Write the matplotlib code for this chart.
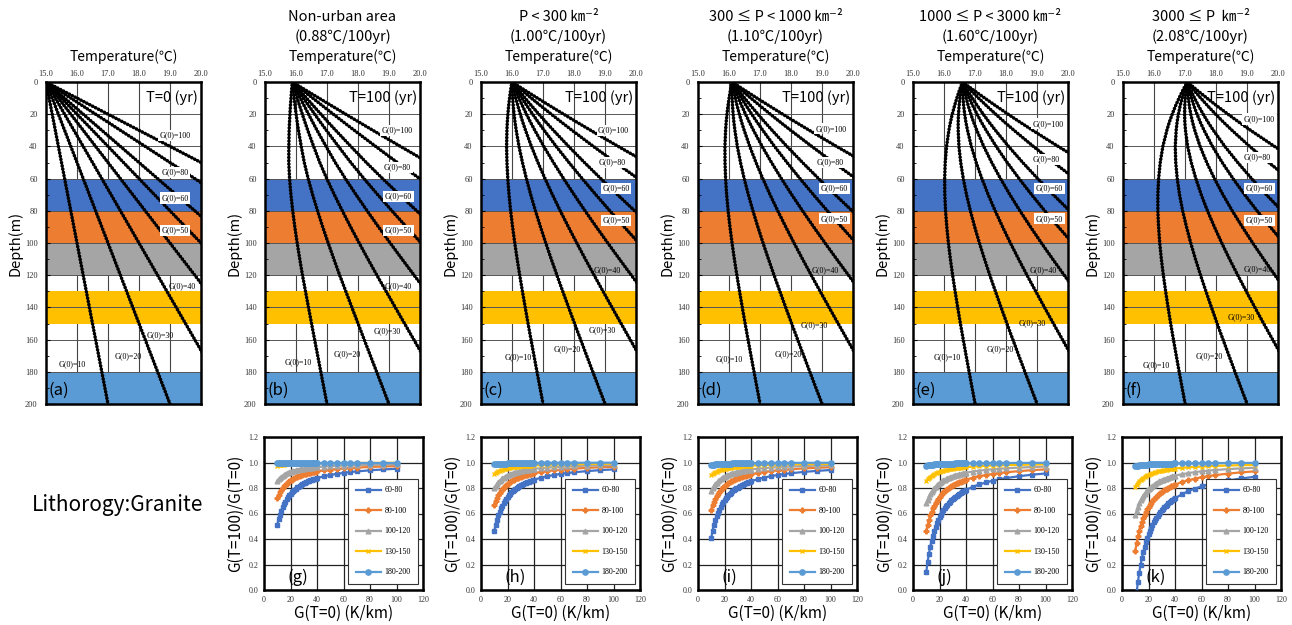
import numpy as np
import matplotlib
matplotlib.use('Agg')
import matplotlib.pyplot as plt

# ---------------- data ----------------
depth = [0, 2, 5, 10, 15, 20, 25, 30, 40, 50, 60, 70, 80, 90, 100,
         110, 120, 130, 140, 150, 160, 170, 180, 190, 200]

# temperature excess (deg C) above the initial linear geotherm, read per panel
excess_a = [0.0] * 25
excess_b = [0.880, 0.852, 0.809, 0.739, 0.670, 0.604, 0.540, 0.479, 0.369, 0.267,
            0.192, 0.137, 0.094, 0.061, 0.038, 0.021, 0.009, 0.006, 0.003, 0.001,
            0.000, 0.000, 0.000, 0.000, 0.000]
excess_c = [1.000, 0.961, 0.906, 0.821, 0.741, 0.667, 0.598, 0.536, 0.426, 0.337,
            0.264, 0.204, 0.156, 0.119, 0.089, 0.066, 0.049, 0.036, 0.026, 0.018,
            0.013, 0.009, 0.006, 0.004, 0.003]
excess_d = [1.100, 1.057, 0.997, 0.903, 0.815, 0.734, 0.658, 0.590, 0.469, 0.371,
            0.290, 0.224, 0.172, 0.131, 0.098, 0.073, 0.054, 0.040, 0.029, 0.020,
            0.014, 0.010, 0.007, 0.004, 0.003]
excess_e = [1.600, 1.538, 1.450, 1.314, 1.186, 1.067, 0.957, 0.858, 0.682, 0.539,
            0.422, 0.326, 0.250, 0.190, 0.142, 0.106, 0.078, 0.058, 0.042, 0.029,
            0.021, 0.014, 0.010, 0.006, 0.005]
excess_f = [2.080, 1.999, 1.884, 1.708, 1.541, 1.387, 1.244, 1.115, 0.886, 0.701,
            0.549, 0.424, 0.324, 0.248, 0.185, 0.137, 0.102, 0.075, 0.054, 0.037,
            0.027, 0.019, 0.012, 0.008, 0.006]
excess_all = [excess_a, excess_b, excess_c, excess_d, excess_e, excess_f]

surface_temp0 = 15.0
g0_values = [10, 20, 30, 40, 50, 60, 80, 100]          # K/km
g0_labels = ['G(0)=10', 'G(0)=20', 'G(0)=30', 'G(0)=40',
             'G(0)=50', 'G(0)=60', 'G(0)=80', 'G(0)=100']

layer_top = [60, 80, 100, 130, 180]
layer_bottom = [80, 100, 120, 150, 200]
layer_names = ['60-80', '80-100', '100-120', '130-150', '180-200']

gt0 = [10, 11, 12, 13, 14, 15, 16, 17, 18, 19, 20, 21, 22, 23, 24, 25, 26, 27, 28, 29,
       30, 31, 32, 33, 34, 35, 36, 37, 38, 39, 40, 45, 50, 55, 60, 65, 70, 80, 90, 100]

title_line1 = [None, 'Non-urban area', 'P < 300 \u339e\u207b\u00b2', '300 \u2264 P < 1000 \u339e\u207b\u00b2',
               '1000 \u2264 P < 3000 \u339e\u207b\u00b2', '3000 \u2264 P  \u339e\u207b\u00b2']
title_line2 = [None, '(0.88\u2103/100yr)', '(1.00\u2103/100yr)', '(1.10\u2103/100yr)',
               '(1.60\u2103/100yr)', '(2.08\u2103/100yr)']
time_labels = ['T=0 (yr)'] + ['T=100 (yr)'] * 5
top_letters = ['(a)', '(b)', '(c)', '(d)', '(e)', '(f)']
bot_letters = ['(g)', '(h)', '(i)', '(j)', '(k)']

# ---------------- styles / layout ----------------
W, H = 1292, 625
fig = plt.figure(figsize=(W / 100, H / 100), dpi=100)
SANS = ['Noto Sans CJK JP', 'DejaVu Sans']
SERIF = 'Liberation Serif'

layer_colors = ['#4472C4', '#ED7D31', '#A5A5A5', '#FFC000', '#5B9BD5']
markers = ['s', 'P', '^', 'x', 'o']
msizes = [3.4, 3.4, 3.4, 3.4, 3.8]

top_left = [46, 265, 481, 698, 913, 1123]
top_w, top_top, top_bot = 155, 82, 404
bot_left = [264, 481, 698, 913, 1122]
bot_w, bot_top, bot_bot = 159, 437, 590

# label positions (T, depth) per panel
label_pos = [
    [(15.86, 175), (17.66, 170), (18.7, 157), (19.38, 127), (19.16, 92), (19.16, 72), (19.16, 56), (19.16, 33)],
    [(16.08, 174), (17.65, 169), (18.94, 155), (19.3, 127), (19.3, 92), (19.3, 71), (19.27, 53), (19.27, 30)],
    [(16.2, 171), (17.77, 166), (18.9, 154), (19.06, 117), (19.35, 86), (19.35, 66), (19.22, 50), (19.28, 30)],
    [(16.0, 172), (17.9, 169), (18.75, 151), (19.1, 117), (19.4, 85), (19.4, 66), (19.25, 50), (19.3, 29)],
    [(16.1, 171), (17.8, 166), (18.85, 150), (19.2, 117), (19.4, 85), (19.4, 66), (19.3, 48), (19.35, 26)],
    [(16.06, 176), (17.78, 170), (18.8, 146), (19.33, 116), (19.4, 86), (19.4, 66), (19.33, 47), (19.4, 23)],
]
boxed = [False, False, False, False, True, True, True, True]

for i in range(6):
    ax = fig.add_axes([top_left[i] / W, 1 - top_bot / H, top_w / W, (top_bot - top_top) / H])
    ax.set_xlim(15, 20)
    ax.set_ylim(200, 0)
    for t in [16, 17, 18, 19]:
        ax.axvline(t, color='#444444', lw=0.8, zorder=0.5)
    for zt, zb, c in zip(layer_top, layer_bottom, layer_colors):
        ax.axhspan(zt, zb, color=c, lw=0, zorder=1)
    for d in range(20, 200, 20):
        ax.axhline(d, color='#555555', lw=0.7, zorder=1.5)
    ex = np.array(excess_all[i])
    dep = np.array(depth, dtype=float)
    for g in g0_values:
        temp = surface_temp0 + g * dep / 1000.0 + ex
        ax.plot(temp, dep, color='black', lw=1.2, zorder=3, solid_capstyle='round')
        ax.plot(temp, dep, color='black', lw=2.6, zorder=3,
                linestyle=(0, (0.01, 0.9)), dash_capstyle='round')
    for (tx, ty), lab, bx in zip(label_pos[i], g0_labels, boxed):
        kw = dict(boxstyle='square,pad=0.2', fc='white', ec='none') if bx else None
        ax.text(tx, ty, lab, fontsize=5.8, family=SERIF, ha='center', va='center',
                zorder=4, bbox=kw)
    ax.text(19.9, 5, time_labels[i], fontsize=10.5, family=SANS, ha='right', va='top', zorder=5)
    ax.text(15.08, 197, top_letters[i], fontsize=12, family=SANS, ha='left', va='bottom', zorder=5)
    ax.xaxis.tick_top()
    ax.set_xticks([15, 16, 17, 18, 19, 20])
    ax.set_xticklabels(['15.0', '16.0', '17.0', '18.0', '19.0', '20.0'])
    ax.set_yticks(range(0, 201, 20))
    ax.set_yticks(range(10, 200, 20), minor=True)
    ax.tick_params(axis='x', length=0, pad=3, labelsize=6, labelcolor='#333333')
    ax.tick_params(axis='y', which='major', direction='in', length=3, pad=6,
                   labelsize=6, labelcolor='#333333')
    ax.tick_params(axis='y', which='minor', direction='in', length=2)
    for lbl in ax.get_xticklabels() + ax.get_yticklabels():
        lbl.set_family(SERIF)
    for s in ax.spines.values():
        s.set_linewidth(1.8)
        s.set_zorder(6)
    ax.set_ylabel('Depth(m)', fontsize=10.5, family=SANS, labelpad=2)
    cx = (top_left[i] + top_w / 2) / W
    fig.text(cx, 1 - 57 / H, 'Temperature(\u2103)', fontsize=10, family=SANS,
             ha='center', va='center')
    if title_line1[i]:
        fig.text(cx, 1 - 17 / H, title_line1[i], fontsize=10.5, family=SANS, ha='center', va='center')
        fig.text(cx, 1 - 37 / H, title_line2[i], fontsize=10.5, family=SANS, ha='center', va='center')

# ---------------- bottom panels ----------------
g_arr = np.array(gt0, dtype=float)
for j in range(5):
    ax = fig.add_axes([bot_left[j] / W, 1 - bot_bot / H, bot_w / W, (bot_bot - bot_top) / H])
    ax.set_xlim(0, 120)
    ax.set_ylim(0, 1.2)
    ax.set_xticks(range(0, 121, 20))
    ax.set_yticks([0.0, 0.2, 0.4, 0.6, 0.8, 1.0, 1.2])
    ax.set_yticklabels(['0.0', '0.2', '0.4', '0.6', '0.8', '1.0', '1.2'])
    ax.grid(True, color='#222222', lw=0.9)
    ax.set_axisbelow(True)
    ex = excess_all[j + 1]
    for k in range(5):
        z1, z2 = layer_top[k], layer_bottom[k]
        e1 = ex[depth.index(z1)]
        e2 = ex[depth.index(z2)]
        t0_diff = g_arr * (z2 - z1) / 1000.0
        t100_diff = t0_diff + (e2 - e1)
        ratio = t100_diff / t0_diff
        ax.plot(g_arr, ratio, color=layer_colors[k], marker=markers[k], ms=msizes[k],
                lw=1.6, mew=1.0, label=layer_names[k], zorder=3)
    leg = ax.legend(loc='lower left', bbox_to_anchor=(0.505, 0.015),
                    prop={'family': SERIF, 'size': 5.8}, labelspacing=1.55,
                    handlelength=3.2, borderpad=0.9, fancybox=False, framealpha=1,
                    edgecolor='#333333', handletextpad=0.4)
    leg.get_frame().set_linewidth(0.8)
    ax.text(18, 0.03, bot_letters[j], fontsize=12, family=SANS, ha='left', va='bottom', zorder=5)
    ax.tick_params(length=0, pad=4, labelsize=5.8, labelcolor='#333333')
    for lbl in ax.get_xticklabels() + ax.get_yticklabels():
        lbl.set_family(SERIF)
    for s in ax.spines.values():
        s.set_linewidth(1.8)
    ax.set_ylabel('G(T=100)/G(T=0)', fontsize=11, family=SANS, labelpad=3)
    ax.set_xlabel('G(T=0) (K/km)', fontsize=11, family=SANS, labelpad=1)

fig.text(118 / W, 1 - 505 / H, 'Lithorogy:Granite', fontsize=15, family=SANS,
         ha='center', va='center')

fig.savefig('out.png', dpi=100, facecolor='white')
